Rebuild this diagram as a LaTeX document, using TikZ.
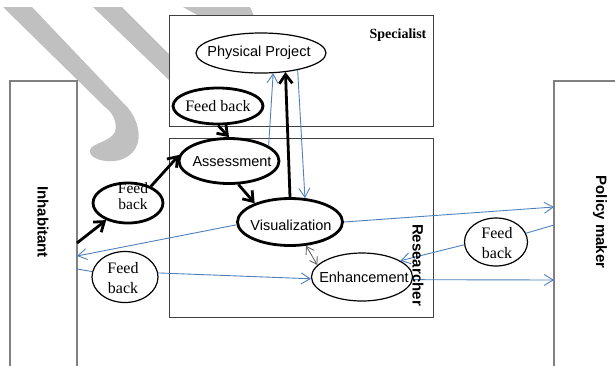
\documentclass[tikz,border=0pt]{standalone}
\usepackage{fontspec}
\setmainfont{Liberation Serif}
\setsansfont{Liberation Sans}
\usetikzlibrary{shapes.geometric,arrows.meta}
\definecolor{linkblue}{RGB}{79,129,189}
\definecolor{markgray}{RGB}{192,192,192}
\begin{document}
\begin{tikzpicture}[x=1pt,y=-1pt,
  rolebox/.style={draw=black!50, line width=1.4pt, fill=white, inner sep=0pt},
  groupbox/.style={draw=black!75, line width=1pt, fill=white, inner sep=0pt},
  rolelabel/.style={font=\sffamily\bfseries\fontsize{15}{18}\selectfont, rotate=-90, inner sep=0pt},
  oval/.style={ellipse, draw, fill=white, inner sep=0pt, line width=1.2pt},
  boldoval/.style={oval, line width=2.8pt},
  sanstext/.style={font=\sffamily\fontsize{14.5}{17}\selectfont, inner sep=0pt},
  seriftext/.style={font=\fontsize{16}{19.5}\selectfont, align=center, inner sep=0pt},
  tightserif/.style={font=\fontsize{15.5}{15.5}\selectfont, align=center, inner sep=0pt},
  bluelink/.style={draw=linkblue, line width=0.9pt},
  bluearrow/.style={bluelink, -{Straight Barb[length=9pt,width=11pt]}},
  thickarrow/.style={line width=2.8pt, -{Straight Barb[length=9pt,width=13pt]}},
  twoway/.style={draw=black!60, line width=0.9pt,
    {Straight Barb[length=7pt,width=9pt]}-{Straight Barb[length=7pt,width=9pt]}}]
\useasboundingbox (0,0) rectangle (615,365);

% light grey background strokes
\fill[markgray] (3,7) -- (32,7) -- (128,108)
  .. controls (142,125) and (145,152) .. (120,160)
  .. controls (105,164) and (88,158) .. (90,150)
  .. controls (92,143) and (110,142) .. (115,132)
  .. controls (118,122) and (112,112) .. (105,107) -- cycle;
\fill[markgray] (93,7) -- (122,7) -- (169,54) -- (169,80) -- cycle;
\fill[markgray] (183,7) -- (250,7) -- (254,16) -- (199,16) -- cycle;

% actors and groups
\node[rolebox, minimum width=67pt, minimum height=300pt] (inh) at (43.5,231) {};
\node[rolebox, minimum width=80pt, minimum height=300pt] (pol) at (594,231) {};
\node[groupbox, minimum width=264pt, minimum height=111pt] (spec) at (301,70.5) {};
\node[groupbox, minimum width=264pt, minimum height=179pt] (res) at (301,227.5) {};

% process ovals
\node[oval, minimum width=130pt, minimum height=40pt] (pp) at (261,53) {};
\node[boldoval, minimum width=90pt, minimum height=36pt] (fbT) at (218,106) {};
\node[boldoval, minimum width=100pt, minimum height=45pt] (as) at (229,161) {};
\node[boldoval, minimum width=105pt, minimum height=47pt] (vis) at (290,222) {};
\node[oval, minimum width=101pt, minimum height=48pt] (en) at (362,277) {};
\node[boldoval, minimum width=70pt, minimum height=40pt] (fbL) at (128,203) {};
\node[oval, minimum width=66pt, minimum height=51pt] (fbB) at (125,277) {};
\node[oval, minimum width=63pt, minimum height=48pt] (fbR) at (496,242) {};

% attachment points on the actor boxes
\coordinate (inhA) at (77,243);
\coordinate (inhB) at (77,256);
\coordinate (inhC) at (77,269);
\coordinate (polA) at (554,207);
\coordinate (polB) at (554,225);
\coordinate (polC) at (554,280);

% main flow
\draw[thickarrow] (inhA) -- (fbL);
\draw[thickarrow] (fbL.36) -- (as.173);
\draw[thickarrow] (fbT.south) -- (as.north);
\draw[thickarrow] (as.-68) -- (vis.152);
\draw[thickarrow] (vis.north) -- (pp.-38);

% information links
\draw[bluearrow] (as.21) -- (pp.-59);
\draw[bluearrow] (pp.-25) -- (vis.58);
\draw[bluearrow] (vis.183) -- (inhB);
\draw[bluelink] (inhC) -- (fbB);
\draw[bluearrow] (fbB.7) -- (en.182);
\draw[bluearrow] (vis.east) -- (polA);
\draw[bluelink] (polB) -- (fbR);
\draw[bluearrow] (fbR.185) -- (en.23);
\draw[bluearrow] (en.-3) -- (polC);
\draw[twoway] (vis.-56) -- (en.165);

% labels
\node[rolelabel] (inhText) at (43,222) {Inhabitant};
\node[rolelabel] (polText) at (600,222) {Policy maker};
\node[rolelabel] (resText) at (418,265) {Researcher};
\node[font=\bfseries\fontsize{14}{17}\selectfont, inner sep=0pt] (specText) at (398,35) {Specialist};

\node[sanstext] (ppText) at (259,53) {Physical Project};
\node[sanstext] (asText) at (232,162) {Assessment};
\node[sanstext] (visText) at (291,225) {Visualization};
\node[sanstext] (enText) at (364,277) {Enhancement};
\node[seriftext] (fbTText) at (218,106) {Feed back};
\node[tightserif] (fbLText) at (133,196) {Feed\\back};
\node[seriftext] (fbBText) at (123,278) {Feed\\back};
\node[seriftext] (fbRText) at (497,243) {Feed\\back};
\end{tikzpicture}
\end{document}
